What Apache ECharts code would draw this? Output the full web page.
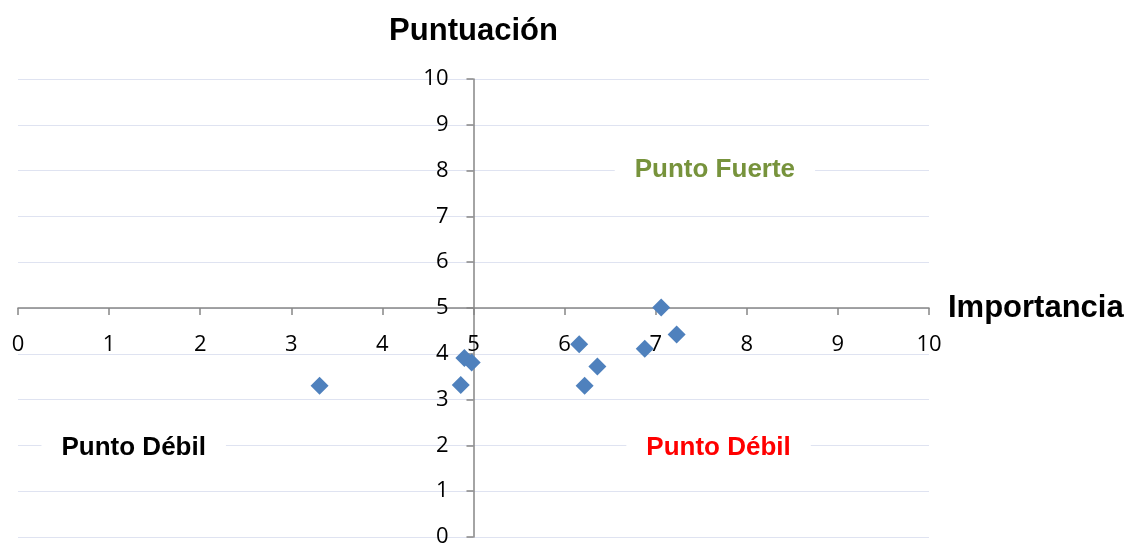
<!DOCTYPE html>
<html lang="es">
<head>
    <meta charset="UTF-8">
    <title>Importancia vs Puntuación</title>
    <style>
        html,body{margin:0;padding:0;background:#fff;}
        #chart{width:1132px;height:543px;}
    </style>
</head>
<body>
    <div id="chart"></div>
    <script src="https://cdn.jsdelivr.net/npm/echarts@6/dist/echarts.min.js"></script>
    <script>
        // valores
        let importancia=[3.31,4.86,4.90,4.98,6.16,6.22,6.36,6.88,7.06,7.23];
        let puntuacion=[3.30,3.32,3.91,3.81,4.21,3.30,3.72,4.11,5.01,4.42];
        let xTicks=[0,1,2,3,4,5,6,7,8,9,10];
        let yTicks=[0,1,2,3,4,5,6,7,8,9,10];
        let quadNames=['Punto Fuerte','Punto Débil','Punto Débil'];
        let quadX=[7.65,1.27,7.69];
        let quadY=[8.02,1.94,1.94];
        let quadColors=['#77933C','#000000','#FF0000'];

        let points=importancia.map((v,i)=>[v,puntuacion[i]]);
        let quadData=quadNames.map((n,i)=>({
            name:n,
            value:[quadX[i],quadY[i]],
            label:{color:quadColors[i]},
        }));

        let chart=echarts.init(document.getElementById('chart'));
        let gridW=1132-18-203, gridH=543-79-6;
        let numFont='"Open Sans", "DejaVu Sans", sans-serif';
        let boldFont='"Liberation Sans", Arial, sans-serif';

        chart.setOption({
            animation:false,
            grid:{left:18,right:203,top:79,bottom:6,containLabel:false,outerBoundsMode:'none'},
            xAxis:{
                type:'value',
                min:xTicks[0],
                max:xTicks[xTicks.length-1],
                interval:1,
                position:'bottom',
                offset:-gridH/2,
                name:'Importancia',
                nameLocation:'end',
                nameGap:19,
                nameTextStyle:{fontFamily:boldFont,fontWeight:'bold',fontSize:31,color:'#000'},
                axisLine:{onZero:false,lineStyle:{color:'#868686',width:1.5}},
                axisTick:{show:true,length:7,lineStyle:{color:'#868686',width:1.5}},
                axisLabel:{fontFamily:numFont,fontSize:22,color:'#000',margin:26},
                splitLine:{show:false},
            },
            yAxis:{
                type:'value',
                min:yTicks[0],
                max:yTicks[yTicks.length-1],
                interval:1,
                position:'left',
                offset:-gridW/2,
                name:'Puntuación',
                nameLocation:'end',
                nameGap:32,
                nameTextStyle:{fontFamily:boldFont,fontWeight:'bold',fontSize:31,color:'#000',align:'center'},
                axisLine:{onZero:false,lineStyle:{color:'#868686',width:1.5}},
                axisTick:{show:true,length:7,lineStyle:{color:'#868686',width:1.5}},
                axisLabel:{fontFamily:numFont,fontSize:22,color:'#000',margin:25},
                splitLine:{show:true,lineStyle:{color:'#dfe3f1',width:1}},
            },
            series:[
                {
                    name:'Puntos',
                    type:'scatter',
                    symbol:'diamond',
                    symbolSize:18,
                    itemStyle:{color:'#4F81BD',opacity:1},
                    data:points,
                    z:3,
                },
                {
                    name:'Cuadrantes',
                    type:'scatter',
                    symbolSize:0,
                    silent:true,
                    itemStyle:{opacity:1},
                    label:{
                        show:true,
                        position:'inside',
                        formatter:'{b}',
                        fontFamily:boldFont,
                        fontWeight:'bold',
                        fontSize:26,
                        backgroundColor:'#fff',
                        padding:[4,20],
                    },
                    data:quadData,
                    z:2,
                },
            ],
        });
    </script>
</body>
</html>
